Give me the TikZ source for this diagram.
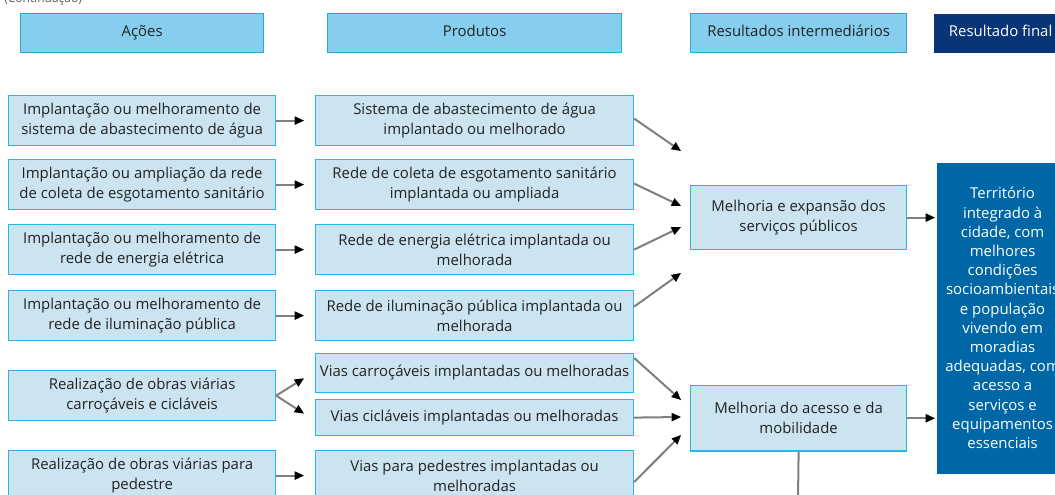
\documentclass[tikz,border=0pt]{standalone}
\usepackage{fontspec}
\setmainfont{Open Sans}
\usetikzlibrary{arrows.meta,calc}
\definecolor{hdrfill}{HTML}{86CEEE}
\definecolor{hdrline}{HTML}{2AA6DD}
\definecolor{boxfill}{HTML}{CBE4F0}
\definecolor{boxline}{HTML}{27B6E8}
\definecolor{navy}{HTML}{0A3478}
\definecolor{finalblue}{HTML}{0067A6}
\definecolor{txt}{HTML}{222222}
\definecolor{arrgray}{HTML}{7F7F7F}
\tikzset{
  every node/.style={font=\fontsize{11.2}{15}\selectfont, text=txt},
  hdr/.style={draw=hdrline, fill=hdrfill, line width=0.9pt, minimum height=29.25pt, inner sep=0pt, text height=8.2pt, text depth=2.6pt, anchor=north west, align=center},
  bx/.style={draw=boxline, fill=boxfill, line width=0.9pt, inner sep=0pt, anchor=north west, align=center},
  arr/.style={draw=arrgray, line width=1.5pt, -{Triangle[length=7pt,width=6.5pt,line width=0pt,color=black]}},
  ln/.style={draw=arrgray, line width=1.5pt},
}
\begin{document}
\begin{tikzpicture}[x=0.75pt,y=-0.75pt]
\useasboundingbox (0,0) rectangle (1055,495);
\begin{scope}
\clip (0,0) rectangle (1055,495);
\node[anchor=base west, inner sep=0pt, font=\fontsize{9}{11}\selectfont, text=black!65] (cont) at (4,3) {(Continuação)};
% headers
\node[hdr, minimum width=182.25pt] (h1) at (20,13) {Ações};
\node[hdr, minimum width=220.5pt] (h2) at (327,13) {Produtos};
\node[hdr, minimum width=162pt] (h3) at (690,13) {Resultados intermediários};
\node[hdr, draw=none, fill=navy, text=white, minimum width=100.5pt] (h4) at (933,13) {Resultado final};
% actions
\node[bx, minimum width=200.25pt, minimum height=37.5pt] (a1) at (8,95) {Implantação ou melhoramento de\\sistema de abastecimento de água};
\node[bx, minimum width=200.25pt, minimum height=37.5pt] (a2) at (8,159) {Implantação ou ampliação da rede\\de coleta de esgotamento sanitário};
\node[bx, minimum width=200.25pt, minimum height=37.5pt] (a3) at (8,224) {Implantação ou melhoramento de\\rede de energia elétrica};
\node[bx, minimum width=200.25pt, minimum height=37.5pt] (a4) at (8,290) {Implantação ou melhoramento de\\rede de iluminação pública};
\node[bx, minimum width=200.25pt, minimum height=37.5pt] (a5) at (8,370) {Realização de obras viárias\\carroçáveis e cicláveis};
\node[bx, minimum width=200.25pt, minimum height=37.5pt] (a6) at (8,450) {Realização de obras viárias para\\pedestre};
% products
\node[bx, minimum width=238.5pt, minimum height=37.5pt] (p1) at (315,95) {Sistema de abastecimento de água\\implantado ou melhorado};
\node[bx, minimum width=238.5pt, minimum height=37.5pt] (p2) at (315,159) {Rede de coleta de esgotamento sanitário\\implantada ou ampliada};
\node[bx, minimum width=238.5pt, minimum height=37.5pt] (p3) at (315,224) {Rede de energia elétrica implantada ou\\melhorada};
\node[bx, minimum width=238.5pt, minimum height=37.5pt] (p4) at (315,290) {Rede de iluminação pública implantada ou\\melhorada};
\node[bx, minimum width=238.5pt, minimum height=29pt] (p5a) at (315,353) {Vias carroçáveis implantadas ou melhoradas};
\node[bx, minimum width=238.5pt, minimum height=27pt] (p5b) at (315,399) {Vias cicláveis implantadas ou melhoradas};
\node[bx, minimum width=238.5pt, minimum height=37.5pt] (p6) at (315,450) {Vias para pedestres implantadas ou\\melhoradas};
% intermediate
\node[bx, minimum width=162pt, minimum height=48pt] (r1) at (690,185) {Melhoria e expansão dos\\serviços públicos};
\node[bx, minimum width=162pt, minimum height=49pt] (r2) at (690,385) {Melhoria do acesso e da\\mobilidade};
% final
\node[bx, draw=none, fill=finalblue, text=white, minimum width=99pt, minimum height=233.25pt, font=\fontsize{11.2}{14.4}\selectfont] (f) at (936,162) {Território\\integrado à\\cidade, com\\melhores\\condições\\socioambientais\\e população\\vivendo em\\moradias\\adequadas, com\\acesso a\\serviços e\\equipamentos\\essenciais};
% free ends
\coordinate (e1) at (681,151);
\coordinate (e2) at (681,206);
\coordinate (e3) at (681,227);
\coordinate (e4) at (681,273);
\coordinate (e5) at (681,400);
\coordinate (e6) at (681,417);
\coordinate (e7) at (681,435);
\coordinate (bot) at (798,500);
% action -> product
\draw[arr] (a1.east) -- ([xshift=-8.25pt]p1.west);
\draw[arr] (a2.east) -- ([xshift=-8.25pt]p2.west);
\draw[arr] (a3.east) -- ([xshift=-8.25pt]p3.west);
\draw[arr] (a4.east) -- ([xshift=-8.25pt]p4.west);
\draw[arr] (a5.east) -- ([xshift=-8.25pt,yshift=-4pt]p5a.west);
\draw[arr] (a5.east) -- ([xshift=-8.25pt,yshift=3pt]p5b.west);
\draw[arr] (a6.east) -- ([xshift=-8.25pt]p6.west);
% product -> intermediate
\draw[arr] ([yshift=1.5pt]p1.east) -- (e1);
\draw[arr] ([yshift=0.75pt]p2.east) -- (e2);
\draw[arr] (p3.east) -- (e3);
\draw[arr] ([yshift=6.75pt]p4.east) -- (e4);
\draw[arr] ([yshift=-3.75pt]p5a.north east) -- (e5);
\draw[arr] (p5b.east) -- (e6);
\draw[arr] ([yshift=-24pt]p6.north east) -- (e7);
% intermediate -> final
\draw[arr] (r1.east) -- ([xshift=-0.75pt]f.west |- r1.east);
\draw[arr] (r2.east) -- ([xshift=-0.75pt]f.west |- r2.east);
\draw[ln] (r2.south) -- (bot);
\end{scope}
\end{tikzpicture}
\end{document}
